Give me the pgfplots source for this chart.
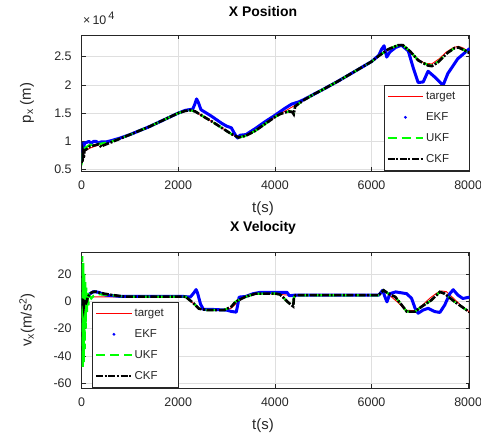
\documentclass[border=0pt]{standalone}
\usepackage{fontspec}
\setmainfont{Liberation Sans}
\usepackage{pgfplots}
\pgfplotsset{compat=1.18}

\definecolor{axgray}{RGB}{38,38,38}
\definecolor{gridgray}{RGB}{223,223,223}
\definecolor{ukfgreen}{RGB}{0,255,0}

\pgfplotsset{
  matlab/.style={
    width=388bp, height=136bp, scale only axis,
    xmin=0, xmax=8030,
    xtick={0,2000,4000,6000,8000},
    axis line style={axgray, line width=0.6bp},
    every tick/.style={axgray, line width=0.6bp},
    major tick length=4bp,
    tick align=inside,
    grid=major,
    major grid style={gridgray, line width=0.6bp},
    ticklabel style={font=\fontsize{12.5}{14}\selectfont, text=axgray},
    /pgf/number format/assume math mode=true,
    /pgf/number format/1000 sep={},
    xticklabel style={yshift=-6.5bp},
    yticklabel style={xshift=-6.5bp},
    xlabel={t(s)},
    xlabel style={at={(axis description cs:0.4675,0)}, anchor=center, yshift=-38bp,
      font=\fontsize{15}{17}\selectfont, text=axgray},
    ylabel style={at={(axis description cs:-0.1407,0.5)}, anchor=center,
      font=\fontsize{15}{17}\selectfont, text=axgray},
    title style={at={(axis description cs:0.4675,1)}, anchor=center, yshift=18bp,
      font=\bfseries\fontsize{14}{16}\selectfont},
    legend cell align=left,
    legend image code/.code={\draw[##1] (0bp,0bp) -- (35.7bp,0bp);},
    legend style={draw=axgray, line width=0.6bp, fill=white,
      inner xsep=2.2bp, inner ysep=4.5bp, row sep=6.3bp,
      nodes={inner sep=1.5bp, text height=9bp, text depth=2.5bp,
        font=\fontsize{11.5}{13}\selectfont, text=axgray}},
  },
  target/.style={red, line width=0.9bp,
    legend image code/.code={\fill[red, draw=none] (0bp,-0.6bp) rectangle (35.7bp,0.6bp);}},
  ekf/.style={blue, line width=3bp, line join=round,
    legend image code/.code={\path[draw=none] (0bp,0bp) -- (35.7bp,0bp);
      \fill[blue, draw=none] (17.85bp,0bp) circle (1.6bp);}},
  ukf/.style={ukfgreen, line width=2.2bp, dash pattern=on 9bp off 5bp},
  ckf/.style={black, line width=2.6bp, dash pattern=on 7bp off 1.6bp on 2bp off 1.6bp},
}

\begin{document}
\begin{tikzpicture}
\begin{axis}[matlab, name=top, at={(0,0)}, anchor=north west,
    ymin=0.477, ymax=2.88, ytick={0.5,1,1.5,2,2.5},
    title={X Position},
    ylabel={p\textsubscript{x} (m)},
    legend style={at={(1,0)}, anchor=south east},
]
\addplot[target] coordinates {
(0,0.78) (50,0.82) (100,0.85) (200,0.89) (300,0.92) (400,0.95) (600,1.00) (800,1.06)
(1000,1.12) (1200,1.19) (1400,1.26) (1600,1.34) (1800,1.42) (2000,1.50) (2150,1.54)
(2250,1.55) (2350,1.53) (2500,1.45) (2700,1.35) (2900,1.24) (3100,1.13) (3250,1.07)
(3400,1.10) (3600,1.19) (3800,1.31) (4000,1.43) (4200,1.53) (4400,1.63) (4600,1.73)
(4800,1.83) (5000,1.92) (5300,2.06) (5600,2.21) (5800,2.31) (6000,2.41) (6150,2.51)
(6350,2.63) (6550,2.70) (6650,2.70) (6800,2.59) (6950,2.46) (7100,2.38) (7250,2.37)
(7400,2.46) (7550,2.58) (7700,2.66) (7800,2.68) (7900,2.65) (8030,2.57)};
\addlegendentry{\makebox[39.5bp][l]{target}}
\addplot[ekf] coordinates {
(0,0.65) (5,0.95) (15,0.70) (25,0.97) (40,0.86) (60,0.97) (100,0.98) (150,1.00)
(200,0.97) (250,1.00) (300,1.00) (350,0.97) (400,0.99) (500,0.99) (600,1.01) (800,1.06)
(1000,1.12) (1200,1.19) (1400,1.26) (1600,1.34) (1800,1.42) (2000,1.50) (2150,1.55)
(2300,1.57) (2340,1.65) (2380,1.75) (2420,1.68) (2470,1.56) (2680,1.45) (2900,1.32)
(3000,1.27) (3100,1.24) (3150,1.16) (3200,1.09) (3230,1.06) (3280,1.11) (3400,1.12)
(3600,1.23) (3800,1.35) (4000,1.46) (4200,1.58) (4350,1.66) (4500,1.70) (4600,1.74)
(4800,1.83) (5000,1.92) (5300,2.06) (5600,2.21) (5800,2.31) (6000,2.41) (6150,2.52)
(6210,2.63) (6260,2.69) (6315,2.49) (6380,2.58) (6500,2.66) (6620,2.70) (6760,2.60)
(6860,2.31) (6965,2.04) (7070,2.05) (7170,2.24) (7305,2.14) (7480,1.99) (7580,2.20)
(7785,2.46) (8030,2.64)};
\addlegendentry{EKF}
\addplot[ukf] coordinates {
(0,0.80) (15,0.72) (30,0.86) (60,0.88) (100,0.90) (150,0.93) (250,0.95) (400,0.96)
(600,0.99) (800,1.05) (1000,1.12) (1200,1.19) (1400,1.26) (1600,1.34) (1800,1.42)
(2000,1.50) (2150,1.54) (2250,1.55) (2350,1.53) (2500,1.45) (2700,1.35) (2900,1.24)
(3100,1.13) (3250,1.07) (3400,1.10) (3600,1.19) (3800,1.31) (4000,1.43) (4100,1.48)
(4200,1.51) (4300,1.53) (4360,1.52) (4390,1.49) (4420,1.62) (4500,1.67) (4600,1.73)
(4800,1.83) (5000,1.92) (5300,2.06) (5600,2.21) (5800,2.31) (6000,2.41) (6150,2.51)
(6350,2.63) (6550,2.70) (6650,2.70) (6800,2.59) (6970,2.43) (7170,2.35) (7250,2.34)
(7380,2.41) (7580,2.57) (7720,2.65) (7800,2.66) (7925,2.61) (8030,2.56)};
\addlegendentry{UKF}
\addplot[ckf] coordinates {
(0,0.62) (10,0.80) (20,0.64) (30,0.78) (45,0.70) (60,0.84) (100,0.86) (170,0.91)
(310,0.94) (350,0.95) (410,0.90) (450,0.93) (600,0.98) (800,1.05) (1000,1.12)
(1200,1.19) (1400,1.26) (1600,1.34) (1800,1.42) (2000,1.50) (2150,1.54) (2250,1.55)
(2350,1.53) (2500,1.45) (2700,1.35) (2900,1.24) (3100,1.13) (3250,1.07) (3400,1.10)
(3600,1.19) (3800,1.31) (4000,1.43) (4100,1.48) (4200,1.51) (4300,1.53) (4360,1.52)
(4390,1.48) (4420,1.62) (4500,1.67) (4600,1.73) (4800,1.83) (5000,1.92) (5300,2.06)
(5600,2.21) (5800,2.31) (6000,2.41) (6150,2.51) (6350,2.63) (6550,2.70) (6650,2.70)
(6800,2.59) (6970,2.43) (7170,2.34) (7250,2.33) (7380,2.40) (7580,2.57) (7720,2.65)
(7800,2.66) (7925,2.61) (8030,2.56)};
\addlegendentry{CKF}
\end{axis}
\node[anchor=base west, font=\fontsize{12.5}{14}\selectfont, text=axgray,
  inner sep=0pt] at ([xshift=1.4bp, yshift=11bp]top.north west)
  {×\,10\,\raisebox{5bp}{\fontsize{11}{12}\selectfont 4}};

\begin{axis}[matlab, at={(0,-217bp)}, anchor=north west,
    ymin=-63.5, ymax=36, ytick={-60,-40,-20,0,20},
    title={X Velocity},
    ylabel={v\textsubscript{x}(m/s\textsuperscript{2})},
    legend style={at={(0.0276,0)}, anchor=south west},
]
\addplot[target] coordinates {
(0,2.5) (100,2.8) (200,3.2) (2100,3.2) (2200,2.0) (2450,-6.0) (3000,-6.5) (3100,-5.0)
(3350,3.0) (3500,5.5) (3700,5.8) (4100,5.0) (4250,4.5) (4400,4.4) (6150,4.4) (6250,8.0)
(6350,5.0) (6550,-1.0) (6700,-6.5) (6900,-7.0) (7050,-3.0) (7200,2.0) (7350,6.0)
(7450,7.5) (7550,7.0) (7700,2.0) (7850,-3.0) (8030,-8.0)};
\addlegendentry{\makebox[39.5bp][l]{target}}
\addplot[ekf] coordinates {
(0,-3) (10,2) (20,-2) (40,3) (80,2) (150,5) (250,7) (350,6.5) (500,4.5) (800,3.5)
(2100,3.5) (2250,3.0) (2320,6.0) (2370,8.5) (2400,6.0) (2460,-2.0) (2520,-6.0)
(2700,-6.0) (3000,-6.5) (3100,-7.5) (3200,-8.0) (3230,-3.0) (3260,3.0) (3400,3.5)
(3550,5.5) (3700,6.5) (4250,6.5) (4300,4.0) (4400,4.4) (6150,4.4) (6230,8.0)
(6280,3.0) (6320,-0.5) (6380,5.5) (6500,6.8) (6730,5.5) (6830,2.0) (6900,-5.0)
(6965,-8.8) (7070,-6.4) (7170,-5.2) (7310,-7.6) (7415,-8.2) (7515,-2.8) (7620,5.5)
(7690,8.4) (7790,4.4) (7890,2.0) (8030,3.0)};
\addlegendentry{EKF}
\addplot[ukf] coordinates {
(0,0) (15,33) (25,-48) (35,28) (45,-45) (55,20) (65,-35) (75,14) (85,-20) (95,10)
(110,-8) (125,6) (140,-3) (160,4) (200,2) (250,4) (300,5) (400,5) (580,4.5) (900,3.3)
(2150,3.3) (2300,-1) (2430,-5.5) (2600,-6.5) (2950,-6.5) (3100,-4) (3185,-0.4)
(3390,3.2) (3600,5.5) (4000,5.6) (4100,5) (4160,3.2) (4260,-0.4) (4350,-3) (4380,-3.5)
(4395,3) (4430,4.4) (6145,4.4) (6250,8) (6350,5.5) (6490,3.2) (6625,-2.8) (6730,-7.6)
(6900,-7.6) (7035,-4) (7240,0.8) (7415,6.8) (7515,5.5) (7720,-0.4) (8030,-8)};
\addlegendentry{UKF}
\addplot[ckf] coordinates {
(0,-2) (10,2) (20,-3) (30,1.5) (45,-3.5) (60,1) (80,-2.5) (100,-0.5) (130,3) (170,5.5)
(230,6.8) (300,7) (400,6) (580,4.8) (900,3.3) (2150,3.3) (2300,-1) (2430,-5.5)
(2600,-6.5) (2950,-6.5) (3100,-4) (3185,-0.4) (3390,3.2) (3600,5.5) (4000,5.6)
(4100,5) (4160,3.2) (4260,-0.4) (4350,-3) (4380,-3.8) (4395,3) (4430,4.4) (6145,4.4)
(6250,8) (6350,5.5) (6490,3.2) (6625,-2.8) (6730,-7.6) (6900,-7.6) (7035,-4)
(7240,0.8) (7415,6.8) (7515,5.5) (7720,-0.4) (8030,-8)};
\addlegendentry{CKF}
\end{axis}

\pgfresetboundingbox
\path (-81.6bp,35bp) rectangle (399.4bp,-399bp);
\end{tikzpicture}
\end{document}
